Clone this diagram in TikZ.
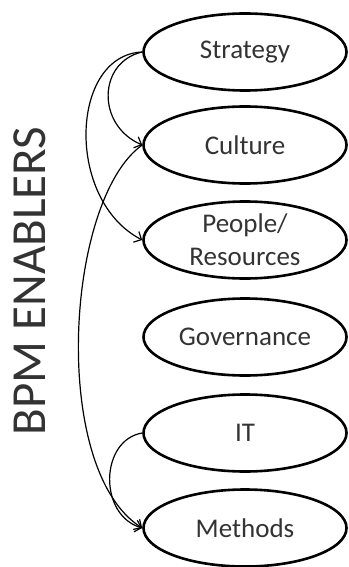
\documentclass[tikz,border=0pt]{standalone}
\usepackage{fontspec}
\setmainfont{Carlito}
\usetikzlibrary{shapes.geometric,arrows.meta}
\definecolor{txt}{HTML}{333333}
\begin{document}
\begin{tikzpicture}[x=1bp,y=-1bp,
  enabler/.style={ellipse,draw=black,line width=2.6bp,minimum width=203bp,minimum height=77bp,inner sep=0pt,
    text=txt,font=\fontsize{27bp}{33bp}\selectfont,align=center},
  link/.style={line width=1.2bp,-{Straight Barb[length=6bp,width=12bp]}}]
\useasboundingbox (0,0) rectangle (348,567);
\node[enabler] (s) at (245,52) {Strategy};
\node[enabler] (c) at (245,145) {Culture};
\node[enabler] (p) at (245,240) {People/\\Resources};
\node[enabler] (g) at (245,337) {Governance};
\node[enabler] (i) at (245,433) {IT};
\node[enabler] (m) at (245,528) {Methods};
\node[rotate=90,text=txt,font=\fontsize{49bp}{50bp}\selectfont] (t) at (30,281) {BPM ENABLERS};
\draw[link] (s.west) .. controls (98,62) and (96,125) .. (c.west);
\draw[link] (s.west) .. controls (70,55) and (65,200) .. (p.west);
\draw[link] (c.west) .. controls (65,200) and (50,470) .. (m.west);
\draw[link] (i.west) .. controls (100,440) and (98,515) .. (m.west);
\end{tikzpicture}
\end{document}
